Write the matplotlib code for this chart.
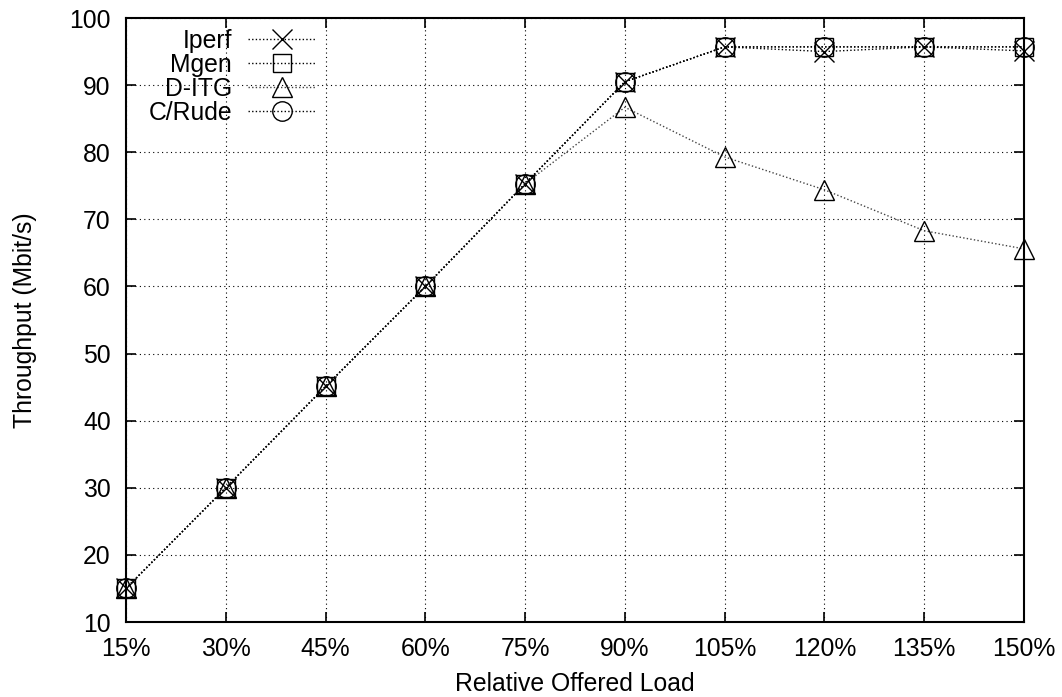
import matplotlib
matplotlib.use("Agg")
import matplotlib.pyplot as plt

# Offered load (percent of link capacity) and measured throughput per generator
load_pct = [15, 30, 45, 60, 75, 90, 105, 120, 135, 150]
tick_labels = [f"{v}%" for v in load_pct]

iperf = [15.0, 30.0, 45.1, 60.0, 75.3, 90.5, 95.7, 95.0, 95.7, 95.1]
mgen = [15.0, 30.0, 45.1, 60.0, 75.3, 90.5, 95.7, 95.7, 95.7, 95.7]
ditg = [15.0, 30.0, 45.1, 60.0, 75.3, 86.7, 79.3, 74.4, 68.3, 65.6]
crude = [15.0, 30.0, 45.1, 60.0, 75.3, 90.5, 95.7, 95.7, 95.7, 95.7]

FS = 17.8
plt.rcParams["font.family"] = ["Liberation Sans", "DejaVu Sans"]
plt.rcParams["font.size"] = FS

fig = plt.figure(figsize=(10.62, 6.97), dpi=100)
W, H = 1062, 697
ax = fig.add_axes([126 / W, 1 - 622 / H, (1024 - 126) / W, (622 - 18) / H])

line_kw = dict(color="black", lw=1.0, linestyle=(0, (1, 1.6)), clip_on=False,
               markerfacecolor="none", markeredgecolor="black", markeredgewidth=1.0)

ax.plot(load_pct, iperf, marker="x", markersize=14, label="Iperf", **line_kw)
ax.plot(load_pct, mgen, marker="s", markersize=13.5, label="Mgen", **line_kw)
ax.plot(load_pct, ditg, marker="^", markersize=14, label="D-ITG",
        **{**line_kw, "color": "#444444"})
ax.plot(load_pct, crude, marker="o", markersize=14, label="C/Rude", **line_kw)

ax.set_xlim(15, 150)
ax.set_ylim(10, 100)
ax.set_xticks(load_pct)
ax.set_xticklabels(tick_labels)
ax.set_yticks(range(10, 101, 10))

ax.grid(True, color="black", lw=0.8, linestyle=(0, (1, 3)))
ax.set_axisbelow(True)
ax.tick_params(direction="in", length=7, width=1.2, top=True, right=True,
               labelsize=FS, pad=11)
for sp in ax.spines.values():
    sp.set_linewidth(1.5)

ax.set_xlabel("Relative Offered Load", fontsize=FS, labelpad=8)
ax.set_ylabel("Throughput (Mbit/s)", fontsize=FS, labelpad=23)

ax.legend(loc="upper right", bbox_to_anchor=(316 / W, 1 - 29 / H),
          bbox_transform=fig.transFigure, frameon=False, markerfirst=False,
          numpoints=1, handlelength=2.75, handletextpad=0.65, labelspacing=0.0,
          borderpad=0, borderaxespad=0, fontsize=FS)

fig.savefig("out.png", dpi=100, facecolor="white")
